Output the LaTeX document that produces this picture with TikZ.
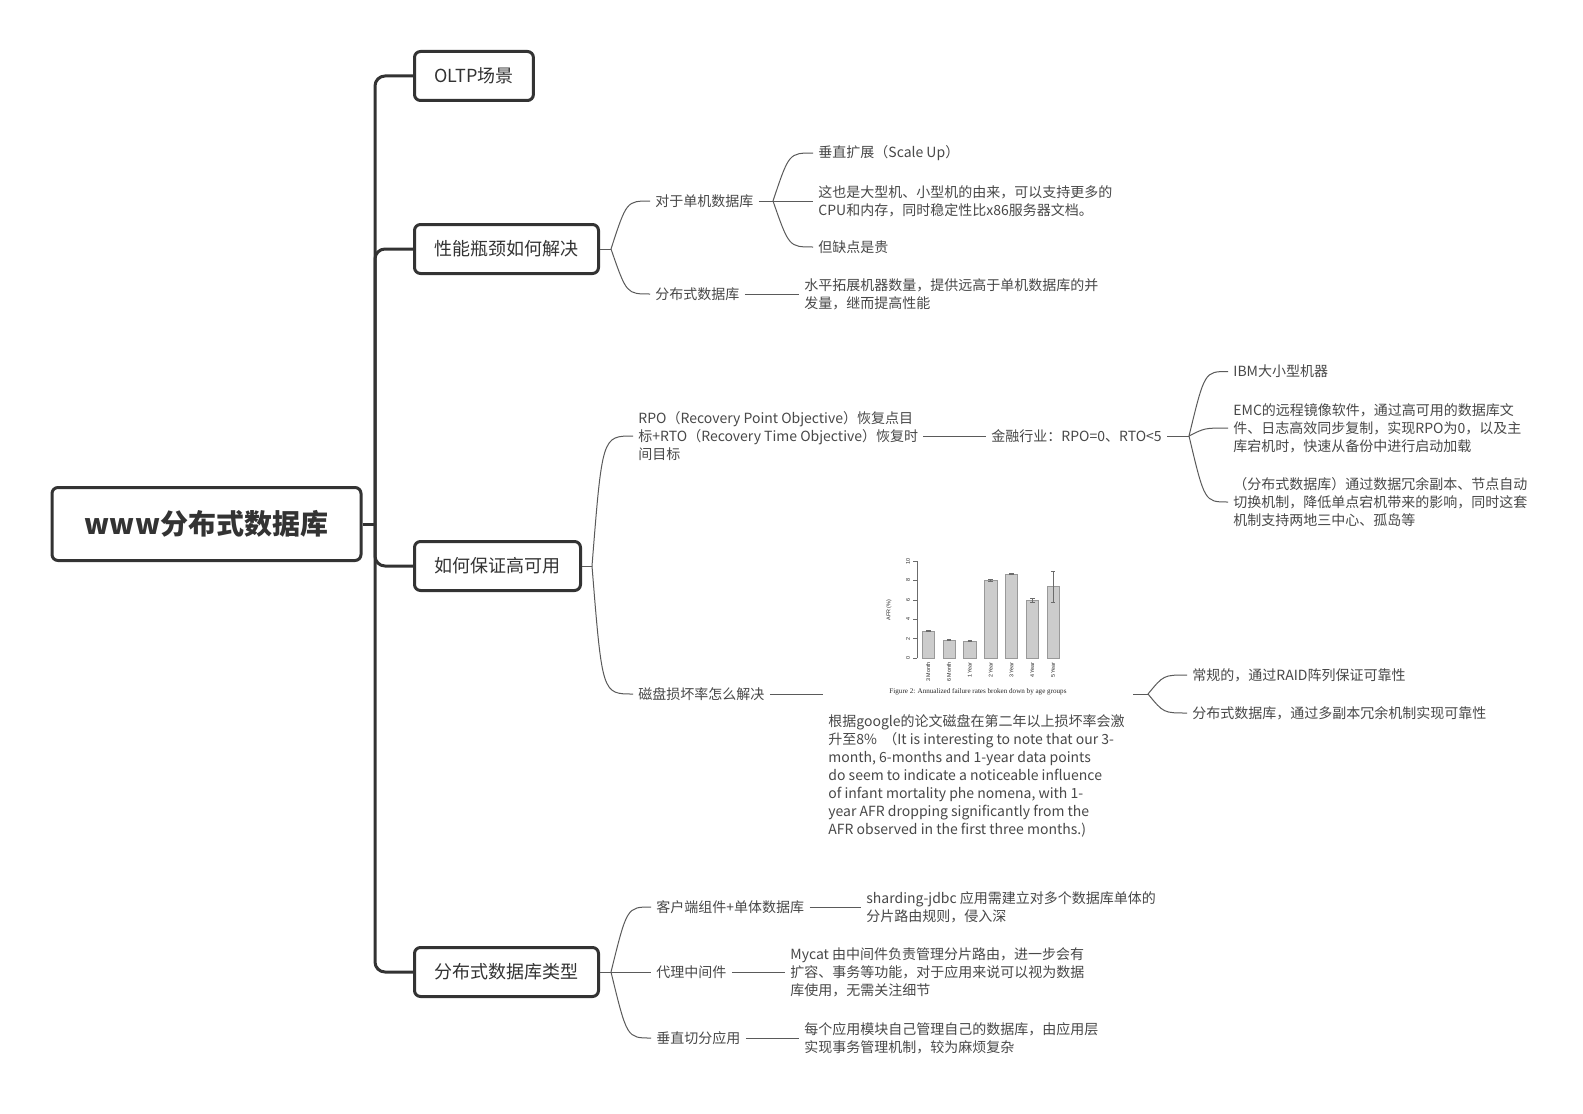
\documentclass[tikz,border=0pt]{standalone}
\usepackage{fontspec}
\setmainfont{Noto Sans CJK SC}
\newfontfamily\capfont{Liberation Serif}
\newfontfamily\plotfont{Liberation Sans}
\usetikzlibrary{positioning,calc}
\definecolor{ink}{HTML}{333333}
\definecolor{twiggray}{HTML}{5A5A5A}
\definecolor{txt}{HTML}{484848}
\definecolor{barfill}{HTML}{CCCCCC}
\definecolor{barline}{HTML}{999999}

\begin{document}
\begin{tikzpicture}[x=0.5pt,y=-0.5pt,
  rootbox/.style={draw=ink,line width=1.5pt,rounded corners=3pt,minimum width=154.5pt,
                  minimum height=36.5pt,font=\fontsize{14}{16}\selectfont\bfseries,text=ink},
  topic/.style={draw=ink,line width=1.5pt,rounded corners=3pt,minimum height=24.5pt,
                inner xsep=10pt,anchor=west,font=\fontsize{9}{11}\selectfont,text=ink},
  leaf/.style={inner xsep=2.5pt,inner ysep=0pt,anchor=west,align=left,
               font=\fontsize{7}{9}\selectfont,text=txt},
  trunk/.style={draw=ink,line width=1.5pt,rounded corners=5pt},
  twig/.style={draw=twiggray,line width=0.5pt},
  bar/.style={fill=barfill,draw=barline,line width=0.3pt},
  ticklbl/.style={font=\plotfont\fontsize{2.7}{3}\selectfont,text=black!85,inner sep=0pt}
]
\fill[white] (0,0) rectangle (1583,1113);
\useasboundingbox (0,0) rectangle (1583,1113);

% root and first level
\node[rootbox] (root) at (206.5,524) {www分布式数据库};
\node[topic] (oltp)  at (413,76)  {OLTP场景};
\node[topic] (perf)  at (413,249) {性能瓶颈如何解决};
\node[topic] (ha)    at (413,566) {如何保证高可用};
\node[topic] (kinds) at (413,972) {分布式数据库类型};
\coordinate (hub) at (375,524);
\draw[trunk] (root.east) -- (hub);
\foreach \t in {oltp,perf,ha,kinds}{ \draw[trunk] (hub) |- (\t.west); }

% performance bottleneck
\node[leaf] (single)   at (650,201) {对于单机数据库};
\node[leaf] (dist)     at (650,294) {分布式数据库};
\node[leaf] (scaleup)  at (813,153) {垂直扩展（Scale Up）};
\node[leaf] (bigiron)  at (813,201) {这也是大型机、小型机的由来，可以支持更多的\\CPU和内存，同时稳定性比x86服务器文档。};
\node[leaf] (pricey)   at (813,247) {但缺点是贵};
\node[leaf] (scaleout) at (799,294) {水平拓展机器数量，提供远高于单机数据库的并\\发量，继而提高性能};
\coordinate (fperf) at (611,249);
\coordinate (fsingle) at (773,201);
\draw[twig] (perf.east) -- (fperf);
\foreach \t in {single,dist}{ \draw[twig] (fperf) .. controls ($(fperf |- \t.west)!0.4!(\t.west)$) .. (\t.west); }
\draw[twig] (single.east) -- (bigiron.west);
\foreach \t in {scaleup,pricey}{ \draw[twig] (fsingle) .. controls ($(fsingle |- \t.west)!0.4!(\t.west)$) .. (\t.west); }
\draw[twig] (dist.east) -- (scaleout.west);

% high availability
\node[leaf] (rpo) at (633,436) {RPO（Recovery Point Objective）恢复点目\\标+RTO（Recovery Time Objective）恢复时\\间目标};
\node[leaf] (fin) at (986,436) {金融行业：RPO=0、RTO<5};
\node[leaf] (ibm) at (1228,371.5) {IBM大小型机器};
\node[leaf] (emc) at (1228,428) {EMC的远程镜像软件，通过高可用的数据库文\\件、日志高效同步复制，实现RPO为0，以及主\\库宕机时，快速从备份中进行启动加载};
\node[leaf] (hadist) at (1228,502) {（分布式数据库）通过数据冗余副本、节点自动\\切换机制，降低单点宕机带来的影响，同时这套\\机制支持两地三中心、孤岛等};
\node[leaf] (disk) at (633,694) {磁盘损坏率怎么解决};
\coordinate (fha) at (592,566);
\coordinate (ffin) at (1189,436);
\draw[twig] (ha.east) -- (fha);
\foreach \t in {rpo,disk}{ \draw[twig] (fha) .. controls ($(fha |- \t.west)!0.25!(\t.west)$) .. (\t.west); }
\draw[twig] (rpo.east) -- (fin.west);
\draw[twig] (fin.east) -- (ffin);
\foreach \t in {ibm,emc,hadist}{ \draw[twig] (ffin) .. controls ($(ffin |- \t.west)!0.4!(\t.west)$) .. (\t.west); }

% disk failure chart
\coordinate (chartin) at (823,694);
\coordinate (chartout) at (1133,694);
\draw[twig] (disk.east) -- (chartin);
\draw[barline!70!black,line width=0.3pt] (917,658) -- (917,561);
\foreach \v in {0,2,...,10}{
  \draw[barline!70!black,line width=0.3pt] (913,{658-\v*9.7}) -- (917,{658-\v*9.7});
  \node[ticklbl,rotate=90] (yt\v) at (908,{658-\v*9.7}) {\v};
}
\node[ticklbl,rotate=90] (afrlbl) at (889,610) {AFR (\%)};
\foreach \i/\h/\e/\lab in {0/2.8/0.06/3 Month,1/1.86/0.05/6 Month,2/1.75/0.03/1 Year,
    3/8.0/0.1/2 Year,4/8.66/0.08/3 Year,5/5.98/0.2/4 Year,6/7.35/1.6/5 Year}{
  \pgfmathsetmacro{\bx}{922+\i*20.8}
  \draw[bar] (\bx,658) rectangle ++(12.5,{-\h*9.7});
  \draw[barline!70!black,line width=0.3pt] ({\bx+6.25},{658-(\h-\e)*9.7}) -- ({\bx+6.25},{658-(\h+\e)*9.7})
     ({\bx+4},{658-(\h-\e)*9.7}) -- ({\bx+8.5},{658-(\h-\e)*9.7})
     ({\bx+4},{658-(\h+\e)*9.7}) -- ({\bx+8.5},{658-(\h+\e)*9.7});
  \node[ticklbl,rotate=90,anchor=east] (xl\i) at ({\bx+6.25},662) {\lab};
}
\node[font=\capfont\fontsize{3.55}{4}\selectfont,inner sep=0pt,text=black!85] (cap) at (978,692)
   {Figure 2: Annualized failure rates broken down by age groups};
\node[leaf] (afr) at (823,775.5) {根据google的论文磁盘在第二年以上损坏率会激\\升至8\%\ \ （It is interesting to note that our 3-\\month, 6-months and 1-year data points\\do seem to indicate a noticeable influence\\of infant mortality phe nomena, with 1-\\year AFR dropping significantly from the\\AFR observed in the first three months.)};
\node[leaf] (raid)    at (1187,675) {常规的，通过RAID阵列保证可靠性};
\node[leaf] (replica) at (1187,713) {分布式数据库，通过多副本冗余机制实现可靠性};
\coordinate (fdisk) at (1148,694);
\draw[twig] (chartout) -- (fdisk);
\foreach \t in {raid,replica}{ \draw[twig] (fdisk) .. controls ($(fdisk |- \t.west)!0.4!(\t.west)$) .. (\t.west); }

% kinds of distributed database
\node[leaf] (client) at (651,907)  {客户端组件+单体数据库};
\node[leaf] (proxy)  at (651,972)  {代理中间件};
\node[leaf] (vsplit) at (651,1038) {垂直切分应用};
\node[leaf] (jdbc)   at (861,907)  {sharding-jdbc 应用需建立对多个数据库单体的\\分片路由规则，侵入深};
\node[leaf] (mycat)  at (785,972)  {Mycat 由中间件负责管理分片路由，进一步会有\\扩容、事务等功能，对于应用来说可以视为数据\\库使用，无需关注细节};
\node[leaf] (layer)  at (799,1038) {每个应用模块自己管理自己的数据库，由应用层\\实现事务管理机制，较为麻烦复杂};
\coordinate (fkinds) at (611,972);
\draw[twig] (kinds.east) -- (proxy.west);
\foreach \t in {client,vsplit}{ \draw[twig] (fkinds) .. controls ($(fkinds |- \t.west)!0.4!(\t.west)$) .. (\t.west); }
\draw[twig] (client.east) -- (jdbc.west);
\draw[twig] (proxy.east) -- (mycat.west);
\draw[twig] (vsplit.east) -- (layer.west);
\end{tikzpicture}
\end{document}
